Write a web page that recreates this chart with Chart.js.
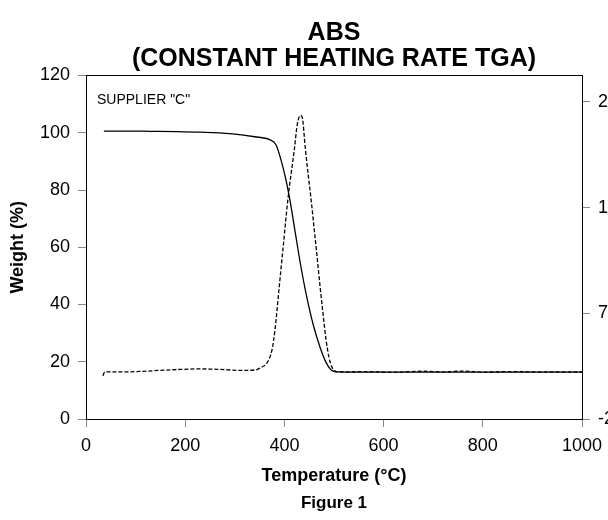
<!DOCTYPE html>
<html>
<head>
<meta charset="utf-8">
<script src="https://cdn.jsdelivr.net/npm/chart.js@4/dist/chart.umd.min.js"></script>
<style>
  body { margin: 0; background: #fff; overflow: hidden; }
</style>
</head>
<body>
<canvas id="tgaChart" width="608" height="520"></canvas>
<script>
// weight curve (left axis)
var weightTemps  = [36, 80, 130, 180, 230, 290, 340, 370, 383, 393, 403, 411, 422, 432, 444, 458, 472, 484, 498, 520, 600, 700, 800, 900, 1000];
var weightValues = [100.6, 100.6, 100.5, 100.4, 100.2, 99.7, 98.6, 97.6, 95.8, 90.6, 83.6, 76.6, 65.0, 54.5, 43.5, 33.0, 25.0, 19.8, 16.7, 16.4, 16.4, 16.4, 16.4, 16.4, 16.4];

// derivative curve (right axis)
var rateTemps  = [34, 38, 69, 109, 149, 190, 230, 270, 311, 341, 355, 365, 375, 381, 389, 397, 407, 420, 426, 432, 436, 442, 448, 454, 460, 466, 472, 478, 484, 490, 496, 502, 508, 560, 620, 680, 720, 760, 800, 860, 920, 1000];
var rateValues = [15.8, 19.5, 19.5, 20.0, 21.0, 21.9, 22.4, 21.9, 21.0, 21.4, 24.3, 28.1, 40.4, 59.4, 97.3, 135.2, 182.6, 230.0, 253.7, 262.2, 260.3, 232.0, 206.0, 182.0, 155.0, 128.0, 100.0, 74.0, 50.0, 33.0, 24.0, 20.3, 19.5, 19.8, 19.3, 20.2, 19.6, 20.3, 19.4, 19.9, 19.5, 19.6];

var rateTicks = [-25, 75, 175, 275];

var fontFamily = '"Liberation Sans", Arial, sans-serif';

function toPoints(xs, ys) {
    return xs.map(function (x, i) { return { x: x, y: ys[i] }; });
}

var supplierLabel = {
    id: 'supplierLabel',
    afterDraw: function (chart) {
        var ctx = chart.ctx, area = chart.chartArea;
        ctx.save();
        ctx.font = '14px ' + fontFamily;
        ctx.fillStyle = '#000';
        ctx.textBaseline = 'middle';
        ctx.fillText('SUPPLIER "C"', area.left + 11, area.top + 25);
        ctx.restore();
    }
};

var axisGrid = { drawOnChartArea: false, tickLength: 8, color: '#888', tickColor: '#888' };
var axisBorder = { display: true, color: '#000', width: 1 };

new Chart(document.getElementById('tgaChart'), {
    type: 'line',
    data: {
        datasets: [
            {
                data: toPoints(weightTemps, weightValues),
                yAxisID: 'y',
                borderColor: '#000',
                borderWidth: 1.3,
                pointRadius: 0,
                cubicInterpolationMode: 'monotone'
            },
            {
                data: toPoints(rateTemps, rateValues),
                yAxisID: 'y2',
                borderColor: '#000',
                borderWidth: 1.3,
                borderDash: [4, 2],
                pointRadius: 0,
                cubicInterpolationMode: 'monotone'
            }
        ]
    },
    options: {
        responsive: false,
        animation: false,
        devicePixelRatio: 1,
        layout: { padding: 0 },
        plugins: {
            legend: { display: false },
            tooltip: { enabled: false },
            title: {
                display: true,
                fullSize: false,
                text: ['ABS', '(CONSTANT HEATING RATE TGA)'],
                color: '#000',
                font: { family: fontFamily, size: 25, weight: 'bold', lineHeight: 1.05 },
                padding: { top: 20, bottom: 3 }
            },
            subtitle: {
                display: true,
                position: 'bottom',
                fullSize: false,
                text: 'Figure 1',
                color: '#000',
                font: { family: fontFamily, size: 17, weight: 'bold', lineHeight: 1.2 },
                padding: { top: 0, bottom: 6 }
            }
        },
        scales: {
            x: {
                type: 'linear',
                position: 'bottom',
                min: 0,
                max: 1000,
                ticks: {
                    stepSize: 200, color: '#000', padding: 8,
                    font: { family: fontFamily, size: 18 },
                    callback: function (v) { return String(v); }
                },
                grid: axisGrid,
                border: axisBorder,
                title: {
                    display: true,
                    text: 'Temperature (°C)',
                    color: '#000',
                    font: { family: fontFamily, size: 18, weight: 'bold', lineHeight: 1.2 },
                    padding: { top: 4, bottom: 7 }
                },
                afterFit: function (axis) {
                    axis.height = 74.6;
                    axis.paddingLeft = 0;
                    axis.paddingRight = 0;
                }
            },
            x2: {
                type: 'linear',
                position: 'top',
                min: 0,
                max: 1000,
                ticks: { display: false },
                grid: { drawOnChartArea: false, drawTicks: false },
                border: axisBorder,
                afterFit: function (axis) {
                    axis.height = 0;
                    axis.paddingLeft = 0;
                    axis.paddingRight = 0;
                }
            },
            y: {
                position: 'left',
                min: 0,
                max: 120,
                ticks: { stepSize: 20, color: '#000', padding: 8, font: { family: fontFamily, size: 18 } },
                grid: axisGrid,
                border: axisBorder,
                title: {
                    display: true,
                    text: 'Weight (%)',
                    color: '#000',
                    font: { family: fontFamily, size: 18, weight: 'bold', lineHeight: 1.2 },
                    padding: { top: 7, bottom: 4 }
                },
                afterFit: function (axis) { axis.width = 86; }
            },
            y2: {
                position: 'right',
                min: -25,
                max: 300,
                afterBuildTicks: function (axis) {
                    axis.ticks = rateTicks.map(function (v) { return { value: v }; });
                },
                ticks: { color: '#000', padding: 8, font: { family: fontFamily, size: 18 } },
                grid: axisGrid,
                border: axisBorder,
                afterFit: function (axis) { axis.width = 26; }
            }
        }
    },
    plugins: [supplierLabel]
});
</script>
</body>
</html>
